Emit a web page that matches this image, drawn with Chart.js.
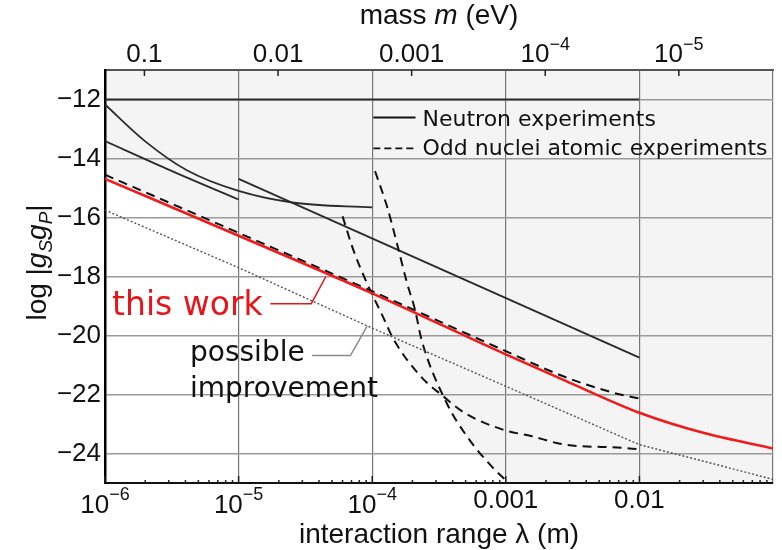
<!DOCTYPE html>
<html>
<head>
<meta charset="utf-8">
<script src="https://cdn.jsdelivr.net/npm/chart.js@4.4.1/dist/chart.umd.min.js"></script>
<style>
  html, body { margin: 0; padding: 0; background: #fff; }
  #wrap { width: 782px; height: 550px; }
</style>
</head>
<body>
<div id="wrap"><canvas id="chart"></canvas></div>
<script>
// interaction range lambda (m) against log10 |gS gP|
var thisWorkLambda = [1e-6, 1e-5, 1e-4, 1e-3, 2.75e-3, 1e-2, 3e-2, 1e-1];
var thisWorkLog    = [-14.69, -16.62, -18.57, -20.64, -21.52, -22.62, -23.3, -23.83];

var improvedLambda = [1e-6, 1e-5, 1e-4, 1e-3, 1e-2, 3.6e-2, 1e-1];
var improvedLog    = [-15.75, -17.7, -19.75, -21.72, -23.7, -24.35, -24.88];

// neutron experiments (solid)
var neutronFlatLambda = [1e-6, 1e-2];
var neutronFlatLog    = [-12, -12];
var neutronALambda = [1e-6, 2e-6, 4.1e-6, 1e-5, 2.6e-5, 1e-4];
var neutronALog    = [-12.17, -13.42, -14.4, -15.1, -15.5, -15.66];
var neutronBLambda = [1e-6, 2.9e-6, 1e-5];
var neutronBLog    = [-13.41, -14.35, -15.39];
var neutronCLambda = [1e-5, 1e-2];
var neutronCLog    = [-14.69, -20.75];

// odd nuclei atomic experiments (dashed)
var atomicALambda = [1e-6, 1e-5, 1e-4, 1e-3, 2.75e-3, 6.5e-3, 1.08e-2];
var atomicALog    = [-14.55, -16.52, -18.5, -20.53, -21.4, -21.95, -22.17];
var atomicBLambda = [6.0e-5, 7.2e-5, 9.1e-5, 1.2e-4, 1.45e-4, 2.3e-4, 3.4e-4, 4.9e-4, 9.5e-4, 1.55e-3, 2.7e-3, 7.6e-3, 9.5e-3];
var atomicBLog    = [-15.96, -17.08, -18.21, -19.35, -20.14, -21.38, -22.06, -22.62, -23.19, -23.41, -23.69, -23.81, -23.85];
var atomicCLambda = [1.05e-4, 1.29e-4, 1.55e-4, 1.82e-4, 2.09e-4, 2.34e-4, 3.6e-4, 5.1e-4, 7.8e-4, 1.05e-3];
var atomicCLog    = [-14.43, -15.62, -16.97, -18.21, -19.12, -20.14, -22.28, -23.41, -24.43, -25.0];

// lower edge of the grey (excluded) region
var excludedLambda = [1e-6, 1e-5, 1e-4, 1.2e-4, 1.45e-4, 2.3e-4, 3.3e-4, 3.6e-4, 5.1e-4, 7.8e-4, 1.0e-3, 1.05e-3, 1e-1];
var excludedLog    = [-14.69, -16.62, -18.57, -19.35, -20.14, -21.38, -22.0, -22.28, -23.41, -24.43, -24.9, -25, -25];

// ticks
var gridLambda = [1e-6, 1e-5, 1e-4, 1e-3, 1e-2, 1e-1];
var lambdaTicks = [1e-6, 1e-5, 1e-4, 1e-3, 1e-2];
var lambdaTickText = [['10', '\u22126'], ['10', '\u22125'], ['10', '\u22124'], ['0.001', ''], ['0.01', '']];
var massTicks = [0.1, 0.01, 0.001, 1e-4, 1e-5];
var massTickText = [['0.1', ''], ['0.01', ''], ['0.001', ''], ['10', '\u22124'], ['10', '\u22125']];
var logTicks = [-24, -22, -20, -18, -16, -14, -12];

var HBARC = 1.9733e-7; // eV m, mass <-> range

var SANS = '"Liberation Sans", Arial, sans-serif';
var DEJAVU = '"DejaVu Sans", sans-serif';

function pairs(xs, ys) {
    return xs.map(function (x, i) { return { x: x, y: ys[i] }; });
}

function solid(data, curved) {
    return { data: data, borderColor: '#2b2b2b', borderWidth: 1.8, pointRadius: 0, fill: false,
             cubicInterpolationMode: curved ? 'monotone' : 'default', tension: 0 };
}

function dashed(data) {
    return { data: data, borderColor: '#111', borderWidth: 2, borderDash: [9, 6], pointRadius: 0, fill: false,
             cubicInterpolationMode: 'monotone' };
}

function drawPow(ctx, base, exp, cx, baseline, expBaseline) {
    ctx.font = '26px ' + SANS;
    var wb = ctx.measureText(base).width;
    ctx.font = '18px ' + SANS;
    var we = exp ? ctx.measureText(exp).width : 0;
    var x0 = cx - (wb + we) / 2;
    ctx.textAlign = 'left';
    ctx.textBaseline = 'alphabetic';
    ctx.font = '26px ' + SANS;
    ctx.fillText(base, x0, baseline);
    if (exp) {
        ctx.font = '18px ' + SANS;
        ctx.fillText(exp, x0 + wb, expBaseline);
    }
}

var decor = {
    id: 'decor',
    afterDraw: function (chart) {
        var ctx = chart.ctx;
        var xs = chart.scales.x, xt = chart.scales.xTop, ys = chart.scales.y;
        var a = chart.chartArea;
        var P = function (lx, v) { return [xs.getPixelForValue(lx), ys.getPixelForValue(v)]; };
        ctx.save();

        // tick marks
        ctx.strokeStyle = '#222';
        ctx.lineWidth = 1.5;
        ctx.beginPath();
        for (var e = -6; e < -1; e++) {
            for (var k = 1; k < 10; k++) {
                var px = xs.getPixelForValue(k * Math.pow(10, e));
                var len = k === 1 ? 7 : 3;
                ctx.moveTo(px, a.bottom);
                ctx.lineTo(px, a.bottom - len);
            }
        }
        massTicks.forEach(function (m) {
            var px = xt.getPixelForValue(m);
            ctx.moveTo(px, a.top);
            ctx.lineTo(px, a.top + 6);
        });
        ctx.stroke();

        // tick labels
        ctx.fillStyle = '#111';
        lambdaTicks.forEach(function (v, i) {
            var t = lambdaTickText[i];
            var bl = t[1] ? a.bottom + 30 : a.bottom + 25;
            drawPow(ctx, t[0], t[1], xs.getPixelForValue(v), bl, bl - 13);
        });
        massTicks.forEach(function (m, i) {
            var t = massTickText[i];
            drawPow(ctx, t[0], t[1], xt.getPixelForValue(m), a.top - 8, a.top - 20);
        });

        // axis titles
        ctx.textBaseline = 'alphabetic';
        ctx.textAlign = 'center';
        ctx.font = '28px ' + SANS;
        ctx.fillText('interaction range \u03bb (m)', (a.left + a.right) / 2, 543);

        var parts = [['mass ', ''], ['m', 'italic '], [' (eV)', '']];
        var total = 0;
        parts.forEach(function (p) { ctx.font = p[1] + '28px ' + SANS; total += ctx.measureText(p[0]).width; });
        var x = (a.left + a.right) / 2 - total / 2;
        ctx.textAlign = 'left';
        parts.forEach(function (p) {
            ctx.font = p[1] + '28px ' + SANS;
            ctx.fillText(p[0], x, 24);
            x += ctx.measureText(p[0]).width;
        });

        // y title, rotated, with subscripts
        var yparts = [['log |', '', 28, 0], ['g', 'italic ', 28, 0], ['S', 'italic ', 19, 6], ['g', 'italic ', 28, 0], ['P', 'italic ', 19, 6], ['|', '', 28, 0]];
        total = 0;
        yparts.forEach(function (p) { ctx.font = p[1] + p[2] + 'px ' + SANS; total += ctx.measureText(p[0]).width; });
        ctx.save();
        ctx.translate(46, (a.top + a.bottom) / 2 - 14);
        ctx.rotate(-Math.PI / 2);
        x = -total / 2;
        yparts.forEach(function (p) {
            ctx.font = p[1] + p[2] + 'px ' + SANS;
            ctx.fillText(p[0], x, p[3]);
            x += ctx.measureText(p[0]).width;
        });
        ctx.restore();

        // legend
        var l1 = P(1.02e-4, -12.61), l1e = P(2.11e-4, -12.61);
        var l2 = P(1.02e-4, -13.66), l2e = P(2.11e-4, -13.66);
        var tx = xs.getPixelForValue(2.38e-4);
        ctx.lineWidth = 1.8;
        ctx.strokeStyle = '#111';
        ctx.beginPath(); ctx.moveTo(l1[0], l1[1]); ctx.lineTo(l1e[0], l1e[1]); ctx.stroke();
        ctx.setLineDash([7, 4]);
        ctx.beginPath(); ctx.moveTo(l2[0], l2[1]); ctx.lineTo(l2e[0], l2e[1]); ctx.stroke();
        ctx.setLineDash([]);
        ctx.font = '22px ' + DEJAVU;
        ctx.textBaseline = 'alphabetic';
        ctx.fillText('Neutron experiments', tx, l1[1] + 9);
        ctx.fillText('Odd nuclei atomic experiments', tx, l2[1] + 7);

        // "this work" label with leader
        ctx.fillStyle = '#e8141a';
        ctx.strokeStyle = '#e8141a';
        ctx.lineWidth = 1.5;
        var tw = P(1.13e-6, -19.29);
        ctx.font = '33px ' + DEJAVU;
        ctx.fillText('this work', tw[0], tw[1]);
        var r1 = P(1.73e-5, -18.92), r2 = P(3.5e-5, -18.92), r3 = P(4.5e-5, -18.0);
        ctx.beginPath(); ctx.moveTo(r1[0], r1[1]); ctx.lineTo(r2[0], r2[1]); ctx.lineTo(r3[0], r3[1]); ctx.stroke();

        // "possible improvement" label with leader
        ctx.fillStyle = '#111';
        ctx.font = '28px ' + DEJAVU;
        var pi1 = P(4.33e-6, -20.87), pi2 = P(4.33e-6, -22.1);
        ctx.fillText('possible', pi1[0], pi1[1]);
        ctx.fillText('improvement', pi2[0], pi2[1]);
        ctx.strokeStyle = '#8a8a8a';
        var g1 = P(3.55e-5, -20.68), g2 = P(6.87e-5, -20.68), g3 = P(9.16e-5, -19.68);
        ctx.beginPath(); ctx.moveTo(g1[0], g1[1]); ctx.lineTo(g2[0], g2[1]); ctx.lineTo(g3[0], g3[1]); ctx.stroke();

        ctx.restore();
    }
};

new Chart(document.getElementById('chart'), {
    type: 'line',
    data: {
        datasets: [
            { data: pairs(thisWorkLambda, thisWorkLog), borderColor: '#ee1c1c', borderWidth: 2.6, pointRadius: 0,
              fill: false, cubicInterpolationMode: 'monotone' },
            { data: pairs(improvedLambda, improvedLog), borderColor: '#555', borderWidth: 1.4, borderDash: [2, 2],
              pointRadius: 0, fill: false, tension: 0 },
            dashed(pairs(atomicALambda, atomicALog)),
            dashed(pairs(atomicBLambda, atomicBLog)),
            dashed(pairs(atomicCLambda, atomicCLog)),
            solid(pairs(neutronFlatLambda, neutronFlatLog), false),
            solid(pairs(neutronALambda, neutronALog), true),
            solid(pairs(neutronBLambda, neutronBLog), true),
            solid(pairs(neutronCLambda, neutronCLog), false),
            { data: pairs(excludedLambda, excludedLog), borderWidth: 0, borderColor: 'rgba(0,0,0,0)',
              backgroundColor: '#f4f4f4', pointRadius: 0, fill: 'end', tension: 0 }
        ]
    },
    options: {
        responsive: true,
        maintainAspectRatio: false,
        animation: false,
        layout: { padding: { left: 0, right: 9, top: 0, bottom: 0 } },
        plugins: {
            legend: { display: false },
            tooltip: { enabled: false },
            filler: { drawTime: 'beforeDraw' }
        },
        scales: {
            x: {
                type: 'logarithmic', position: 'bottom', min: 1e-6, max: 1e-1,
                afterBuildTicks: function (s) { s.ticks = gridLambda.map(function (v) { return { value: v }; }); },
                afterFit: function (s) { s.height = 67; },
                ticks: { display: false },
                grid: { color: '#777', lineWidth: 1.2, drawTicks: false },
                border: { color: '#111', width: 2 }
            },
            xTop: {
                type: 'logarithmic', position: 'top', reverse: true,
                min: HBARC / 1e-1, max: HBARC / 1e-6,
                afterFit: function (s) { s.height = 70; },
                ticks: { display: false },
                grid: { display: false, drawTicks: false },
                border: { color: '#555', width: 2 }
            },
            y: {
                type: 'linear', min: -25, max: -11,
                afterBuildTicks: function (s) { s.ticks = logTicks.map(function (v) { return { value: v }; }); },
                afterFit: function (s) { s.width = 105; },
                ticks: {
                    padding: 4, color: '#111',
                    font: { family: 'Liberation Sans', size: 26 },
                    callback: function (v) { return '\u2212' + Math.abs(v); }
                },
                grid: { color: '#9a9a9a', lineWidth: 1.6, drawTicks: false },
                border: { color: '#000', width: 2.5 }
            }
        }
    },
    plugins: [decor]
});
</script>
</body>
</html>
